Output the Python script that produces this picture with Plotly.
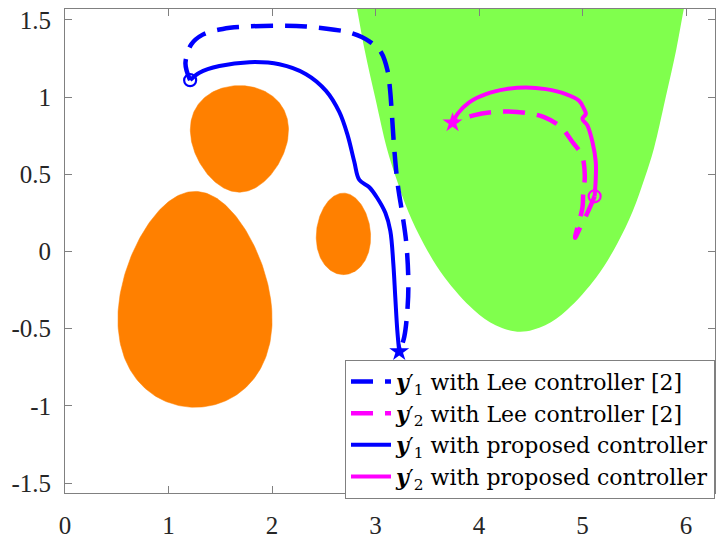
import numpy as np
import plotly.graph_objects as go

# ---- axis ticks ----
x_ticks = [0, 1, 2, 3, 4, 5, 6]
x_tick_text = ["0", "1", "2", "3", "4", "5", "6"]
y_ticks = [-1.5, -1.0, -0.5, 0.0, 0.5, 1.0, 1.5]
y_tick_text = ["-1.5", "-1", "-0.5", "0", "0.5", "1", "1.5"]

# ---- safe (target) region: U-shaped boundary, left side top->bottom, right side bottom->top ----
safe_x = [2.78, 2.823, 2.894, 3.000, 3.110, 3.200, 3.314, 3.470, 3.666, 3.950, 4.160, 4.400,
          4.640, 4.850, 5.134, 5.330, 5.486, 5.600, 5.690, 5.800, 5.906, 5.977, 6.02]
safe_y = [1.70, 1.564, 1.308, 0.987, 0.667, 0.474, 0.262, 0.044, -0.167, -0.379, -0.478, -0.520,
          -0.478, -0.379, -0.167, 0.044, 0.262, 0.474, 0.667, 0.987, 1.308, 1.564, 1.70]

# ---- obstacles: egg-shaped regions (centre, half-width, half-height, taper) ----
obs_cx = [1.256, 1.685, 2.690]
obs_cy = [-0.310, 0.729, 0.114]
obs_a = [0.731, 0.467, 0.262]
obs_b = [0.699, 0.345, 0.264]
obs_taper = [0.20, -0.18, 0.08]

# ---- trajectories ----
y1_lee_x = [1.209, 1.177, 1.164, 1.219, 1.331, 1.524, 1.782, 2.071, 2.329, 2.602, 2.766,
            2.940, 3.056, 3.117, 3.140, 3.159, 3.181, 3.213, 3.262, 3.297, 3.317, 3.310,
            3.278, 3.239, 3.229]
y1_lee_y = [1.109, 1.167, 1.223, 1.340, 1.404, 1.441, 1.457, 1.462, 1.457, 1.436, 1.415,
            1.361, 1.287, 1.169, 1.051, 0.880, 0.666, 0.442, 0.230, 0.057, -0.187, -0.360,
            -0.552, -0.636, -0.648]

y2_lee_x = [5.117, 5.047, 4.967, 4.928, 4.999, 5.006, 5.022, 4.993, 4.903, 4.791, 4.629,
            4.453, 4.275, 4.115, 3.937, 3.793, 3.744]
y2_lee_y = [0.357, 0.250, 0.141, 0.089, 0.282, 0.365, 0.495, 0.623, 0.709, 0.806, 0.870,
            0.897, 0.906, 0.902, 0.880, 0.848, 0.833]

y1_new_x = [1.209, 1.299, 1.492, 1.782, 2.071, 2.329, 2.522, 2.651, 2.731, 2.795, 2.844,
            2.940, 3.017, 3.095, 3.143, 3.172, 3.191, 3.210, 3.229]
y1_new_y = [1.109, 1.158, 1.201, 1.226, 1.212, 1.148, 1.040, 0.902, 0.752, 0.581, 0.463,
            0.416, 0.346, 0.250, 0.134, -0.078, -0.296, -0.507, -0.648]

y2_new_x = [5.117, 5.128, 5.128, 5.096, 5.047, 4.999, 5.032, 5.015, 4.967, 4.839, 4.646,
            4.453, 4.260, 4.067, 3.905, 3.792, 3.744]
y2_new_y = [0.357, 0.474, 0.581, 0.709, 0.816, 0.859, 0.891, 0.923, 0.976, 1.019, 1.051,
            1.062, 1.051, 1.019, 0.966, 0.891, 0.833]

# start / end points
start_x = [1.209, 5.117]
start_y = [1.109, 0.357]
end_x = [3.229, 3.744]
end_y = [-0.648, 0.833]

BLUE = "#0000FF"
MAGENTA = "#FF00FF"
ORANGE = "#FF8000"
GREEN = "rgb(128,255,77)"
DASH = "22px,12px"


def egg_outline(cx, cy, a, b, taper, n=240):
    t = np.linspace(0, 2 * np.pi, n)
    s = np.sin(t)
    return cx + a * np.cos(t) * (1 - taper * s), cy + b * s


fig = go.Figure()

fig.add_trace(go.Scatter(x=safe_x, y=safe_y, mode="lines", fill="toself",
                         fillcolor=GREEN, line=dict(color=GREEN, width=0, shape="spline",
                                                    smoothing=1.0),
                         showlegend=False, hoverinfo="skip"))
for cx, cy, a, b, tp in zip(obs_cx, obs_cy, obs_a, obs_b, obs_taper):
    ox, oy = egg_outline(cx, cy, a, b, tp)
    fig.add_trace(go.Scatter(x=ox, y=oy, mode="lines", fill="toself",
                             fillcolor=ORANGE, line=dict(color=ORANGE, width=0.5),
                             showlegend=False, hoverinfo="skip"))

lab_y1 = "<b><i>y</i></b>′<sub>1</sub>"
lab_y2 = "<b><i>y</i></b>′<sub>2</sub>"

fig.add_trace(go.Scatter(x=y1_lee_x, y=y1_lee_y, mode="lines",
                         line=dict(color=BLUE, width=4.5, dash=DASH, shape="spline"),
                         name=lab_y1 + " with Lee controller [2]"))
fig.add_trace(go.Scatter(x=y2_lee_x, y=y2_lee_y, mode="lines",
                         line=dict(color=MAGENTA, width=4.5, dash=DASH, shape="spline"),
                         name=lab_y2 + " with Lee controller [2]"))
fig.add_trace(go.Scatter(x=y1_new_x, y=y1_new_y, mode="lines",
                         line=dict(color=BLUE, width=4, shape="spline"),
                         name=lab_y1 + " with proposed controller"))
fig.add_trace(go.Scatter(x=y2_new_x, y=y2_new_y, mode="lines",
                         line=dict(color=MAGENTA, width=4, shape="spline"),
                         name=lab_y2 + " with proposed controller"))

fig.add_trace(go.Scatter(x=start_x, y=start_y, mode="markers", showlegend=False,
                         marker=dict(symbol="circle-open", size=12,
                                     color=[BLUE, MAGENTA], line=dict(width=2.2))))
fig.add_trace(go.Scatter(x=end_x, y=end_y, mode="markers", showlegend=False,
                         marker=dict(symbol="star", size=15, color=[BLUE, MAGENTA],
                                     line=dict(width=0))))

axis_common = dict(showgrid=False, zeroline=False, showline=True, linecolor="#808080",
                   linewidth=1, mirror="ticks", ticks="inside", ticklen=7,
                   tickcolor="#808080", tickfont=dict(family="Liberation Serif", size=25,
                                                      color="#262626"))

fig.update_layout(
    width=717, height=540,
    margin=dict(l=65, r=1, t=9, b=42),
    paper_bgcolor="white", plot_bgcolor="white",
    xaxis=dict(range=[0, 6.28], tickvals=x_ticks, ticktext=x_tick_text,
               ticklabelstandoff=10, **axis_common),
    yaxis=dict(range=[-1.564, 1.57], tickvals=y_ticks, ticktext=y_tick_text,
               ticklabelstandoff=8, **axis_common),
    legend=dict(x=1, y=-0.012, xanchor="right", yanchor="bottom",
                bgcolor="white", bordercolor="#808080", borderwidth=1,
                font=dict(family="DejaVu Serif", size=22, color="black"),
                itemwidth=40, tracegroupgap=0),
    showlegend=True,
)

fig.write_html("out.html")
